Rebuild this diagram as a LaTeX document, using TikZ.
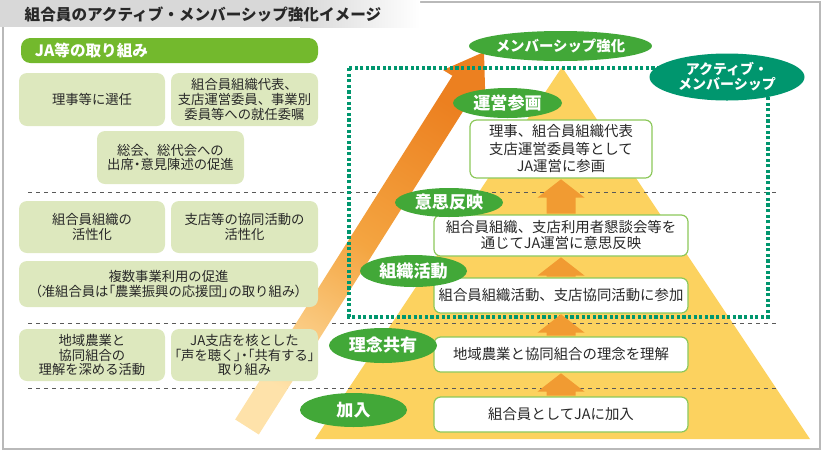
\documentclass[tikz,border=0pt]{standalone}
\usepackage{fontspec}
\setmainfont{Noto Sans CJK JP}
\newfontfamily\jpprop{Noto Sans CJK JP}[RawFeature=+palt]
\usetikzlibrary{shapes.geometric, calc, positioning}
\definecolor{jagreen}{RGB}{115,185,45}
\definecolor{boxgreen}{RGB}{221,232,190}
\definecolor{linegreen}{RGB}{140,200,90}
\definecolor{ovalgreen}{RGB}{66,168,56}
\definecolor{amteal}{RGB}{0,150,110}
\definecolor{pyramidyel}{RGB}{252,210,95}
\definecolor{arrowdeep}{RGB}{236,128,32}
\definecolor{arrowmid}{RGB}{244,165,65}
\definecolor{arrowpale}{RGB}{254,226,170}
\definecolor{steporange}{RGB}{241,155,50}
\definecolor{titlegray}{RGB}{216,216,216}
\definecolor{framegray}{RGB}{185,185,185}
\definecolor{textdark}{RGB}{40,40,40}

\begin{document}
\begin{tikzpicture}[x=0.75pt, y=-0.75pt,
    jabox/.style={fill=boxgreen, rounded corners=6pt, align=center, text=textdark,
      inner sep=0pt, font=\fontsize{10}{11}\selectfont},
    levelbox/.style={draw=linegreen, line width=0.9pt, fill=white, rounded corners=5pt,
      align=center, text=textdark, inner sep=0pt, minimum width=190.5pt,
      font=\fontsize{10.8}{12.4}\selectfont},
    stage/.style={ellipse, fill=ovalgreen, text=white, inner sep=0pt,
      font=\bfseries\fontsize{12.8}{14}\selectfont},
    sepline/.style={dashed, gray!70!black, line width=0.6pt},
    uparrow/.style={fill=steporange}]

  \useasboundingbox (0,0) rectangle (826,455);

  % 外枠とタイトル帯
  \draw[framegray, line width=1.5pt] (3,2) rectangle (820,449);
  \fill[titlegray] (0,0) rectangle (300,27);
  \shade[left color=titlegray, right color=white] (300,0) rectangle (420,27);
  \node[anchor=west, text=textdark, font=\bfseries\fontsize{11.7}{13}\selectfont]
    (title) at (20,14) {組合員のアクティブ・メンバーシップ強化イメージ};

  % ピラミッド
  \fill[pyramidyel] (562,67) -- (810,439) -- (315,439) -- cycle;

  % 段の区切り（破線）
  \draw[sepline] (28,192) -- (777,192);
  \draw[sepline] (28,323) -- (777,323);
  \draw[sepline] (28,388) -- (777,388);

  % 強化の大矢印（下ほど淡い）
  \shade[top color=arrowdeep, bottom color=arrowpale, middle color=arrowmid, shading angle=-32]
    (235.2,419.5) -- (452.4,75.8) -- (443.1,70) -- (484,52) -- (485.3,96.7)
    -- (476,90.8) -- (258.8,434.5) -- cycle;

  % アクティブ・メンバーシップの範囲
  \draw[amteal, line width=2.6pt, dash pattern=on 2.4pt off 1.8pt] (349,68) rectangle (768,317);

  % JA等の取り組み
  \node[fill=jagreen, rounded corners=7pt, minimum width=222.75pt, minimum height=18.75pt,
        inner xsep=10.5pt, text width=201.75pt, align=left, text=white,
        font=\bfseries\fontsize{11.7}{13}\selectfont] (jahead) at (169.5,50.5) {JA等の取り組み};
  \node[jabox, minimum width=109.5pt, minimum height=39.75pt] (riji) at (92,99.5) {理事等に選任};
  \node[jabox, minimum width=110.25pt, minimum height=39.75pt] (iinkai) at (244.5,99.5)
    {組合員組織代表、\\支店運営委員、事業別\\委員等への就任委嘱};
  \node[jabox, minimum width=110.25pt, minimum height=39.75pt] (sokai) at (170.5,157.5)
    {総会、総代会への\\出席{\jpprop ・}意見陳述の促進};
  \node[jabox, minimum width=109.5pt, minimum height=39pt] (soshiki) at (92,227)
    {組合員組織の\\活性化};
  \node[jabox, minimum width=110.25pt, minimum height=39pt] (kyodo) at (244.5,227)
    {支店等の協同活動の\\活性化};
  \node[jabox, minimum width=224.25pt, minimum height=34.5pt] (fukusu) at (168.5,284)
    {複数事業利用の促進\\{\jpprop （}准組合員は{\jpprop 「}農業振興の応援団{\jpprop 」}の取り組み{\jpprop ）}};
  \node[jabox, minimum width=109.5pt, minimum height=39pt] (chiiki) at (92,355)
    {地域農業と\\協同組合の\\理解を深める活動};
  \node[jabox, minimum width=110.25pt, minimum height=39pt] (koe) at (244.5,355)
    {JA支店を核とした\\{\jpprop 「}声を聴く{\jpprop 」・「}共有する{\jpprop 」}\\取り組み};

  % 各段の内容
  \node[levelbox, minimum width=136.5pt, minimum height=43.5pt, font=\fontsize{10.8}{13.1}\selectfont]
    (lvunei) at (561,149) {理事、組合員組織代表\\支店運営委員等として\\JA運営に参画};
  \node[levelbox, minimum height=30.75pt, font=\fontsize{10.8}{12}\selectfont] (lvishi) at (561,235.5)
    {組合員組織、支店利用者懇談会等を\\通じてJA運営に意思反映};
  \node[levelbox, minimum height=26.25pt] (lvkatsu) at (561,295.5) {組合員組織活動、支店協同活動に参加};
  \node[levelbox, minimum height=26.25pt] (lvrinen) at (561,354.5) {地域農業と協同組合の理念を理解};
  \node[levelbox, minimum height=26.25pt] (lvkanyu) at (561,414.5) {組合員としてJAに加入};

  % 段の間の上向き矢印
  \foreach \lo/\hi in {lvkanyu/lvrinen, lvrinen/lvkatsu, lvkatsu/lvishi, lvishi/lvunei}
    \fill[uparrow] ($(\lo.north)+(-14.5,-0.7)$) -- ($(\hi.south)+(-14.5,19)$)
      -- ($(\hi.south)+(-23.5,19)$) -- ($(\hi.south)+(0,0.7)$) -- ($(\hi.south)+(23.5,19)$)
      -- ($(\hi.south)+(14.5,19)$) -- ($(\lo.north)+(14.5,-0.7)$) -- cycle;

  % 段階の楕円ラベル
  \node[stage, minimum width=131.25pt, minimum height=22.5pt, font=\bfseries\fontsize{10.8}{12}\selectfont]
    (kyoka) at (560.5,46) {メンバーシップ強化};
  \node[stage, fill=amteal, minimum width=116.25pt, minimum height=35.25pt, align=center,
        font=\bfseries\fontsize{10.5}{11.3}\selectfont] (active) at (727,77) {アクティブ・\\メンバーシップ};
  \node[stage, minimum width=81.75pt, minimum height=22.5pt] (unei) at (507.5,103) {運営参画};
  \node[stage, minimum width=81pt, minimum height=21.75pt] (ishi) at (449,202.5) {意思反映};
  \node[stage, minimum width=80.25pt, minimum height=24pt] (katsudo) at (413.5,271) {組織活動};
  \node[stage, minimum width=81pt, minimum height=26.25pt] (rinen) at (383,345.5) {理念共有};
  \node[stage, minimum width=80.25pt, minimum height=25.5pt] (kanyu) at (353.5,410) {加入};

\end{tikzpicture}
\end{document}
